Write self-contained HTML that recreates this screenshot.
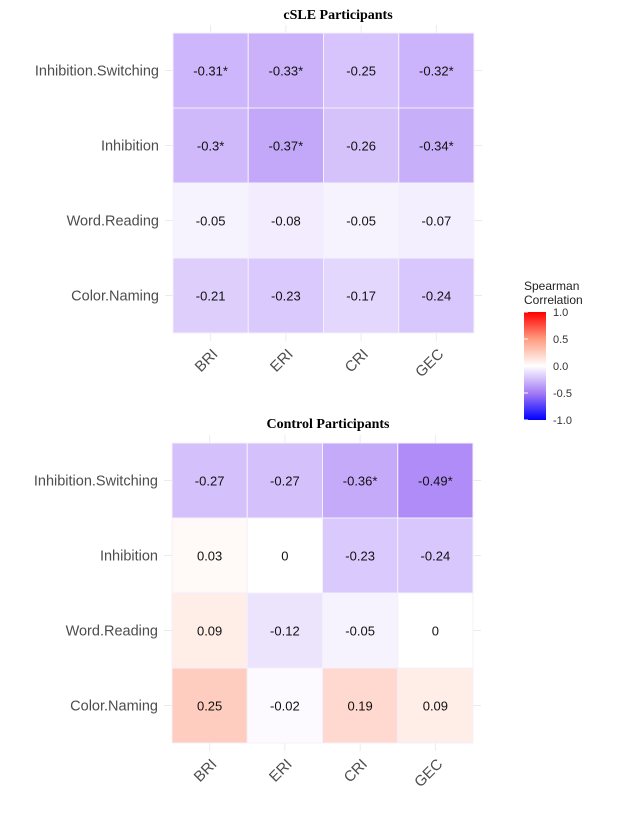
<!DOCTYPE html>
<html><head><meta charset="utf-8"><style>
body{margin:0;background:#fff;}
svg text{font-family:"Liberation Sans",sans-serif;}
</style></head><body>
<svg id="c" width="624" height="814" xmlns="http://www.w3.org/2000/svg">
<defs><linearGradient id="lg" x1="0" y1="1" x2="0" y2="0">
<stop offset="0" stop-color="#0000ff"/><stop offset="0.25" stop-color="#a37cf5"/><stop offset="0.5" stop-color="#ffffff"/><stop offset="0.75" stop-color="#ff9c80"/><stop offset="1" stop-color="#ff0000"/></linearGradient></defs>
<text x="338" y="19" text-anchor="middle" style="font-family:'Liberation Serif',serif;font-weight:bold;font-size:14px">cSLE Participants</text>
<text x="328" y="428" text-anchor="middle" style="font-family:'Liberation Serif',serif;font-weight:bold;font-size:14px">Control Participants</text>
<g id="legend">
<text x="524" y="290" font-size="12" fill="#222">Spearman</text>
<text x="524" y="304" font-size="12" fill="#222">Correlation</text>
<rect x="524" y="312" width="22" height="108" fill="url(#lg)"/>
</g>
</svg>
<script>
const cols=["BRI","ERI","CRI","GEC"];
const rows=["Inhibition.Switching","Inhibition","Word.Reading","Color.Naming"];
const csleVals=[[-0.31,-0.33,-0.25,-0.32],[-0.3,-0.37,-0.26,-0.34],[-0.05,-0.08,-0.05,-0.07],[-0.21,-0.23,-0.17,-0.24]];
const csleSig=[[1,1,0,1],[1,1,0,1],[0,0,0,0],[0,0,0,0]];
const ctrlVals=[[-0.27,-0.27,-0.36,-0.49],[0.03,0,-0.23,-0.24],[0.09,-0.12,-0.05,0],[0.25,-0.02,0.19,0.09]];
const ctrlSig=[[0,0,1,1],[0,0,0,0],[0,0,0,0],[0,0,0,0]];
const legendTicks=[1.0,0.5,0.0,-0.5,-1.0];
const NS="http://www.w3.org/2000/svg";
const svg=document.getElementById('c');
function mk(t,a,p){const e=document.createElementNS(NS,t);for(const k in a)e.setAttribute(k,a[k]);(p||svg).appendChild(e);return e;}
function color(v){let t=Math.min(1,Math.abs(v));let tgt=v<0?[94,20,241]:[255,55,0];
return `rgb(${tgt.map(c=>Math.round(255-t*(255-c))).join(',')})`;}
function panel(name,vals,sig,x0,y0){
 const cw=75.25,rh=75;
 const xs=i=>x0+i*cw, ys=j=>y0+j*rh;
 const g=mk('g',{});
 
 
 cols.forEach((c,i)=>{const cx=xs(i)+cw/2;
  mk('line',{x1:cx,x2:cx,y1:y0-8,y2:y0+4*rh+8,stroke:'#ebebeb','stroke-width':1},g);
  const t=mk('text',{x:0,y:0,'font-size':15,fill:'#4d4d4d','text-anchor':'end',transform:`translate(${cx+8},${y0+4*rh+22}) rotate(-45)`},g);
  t.textContent=c;
  
  });
 rows.forEach((r,j)=>{const cy=ys(j)+rh/2;
  mk('line',{x1:x0-8,x2:x0+4*cw+8,y1:cy,y2:cy,stroke:'#ebebeb','stroke-width':1},g);
  const t=mk('text',{x:x0-14,y:cy+5,'font-size':14.5,fill:'#4d4d4d','text-anchor':'end'},g);
  t.textContent=r;
  
  });
 vals.forEach((row,j)=>row.forEach((v,i)=>{
  const rc=mk('rect',{x:xs(i),y:ys(j),width:cw,height:rh,fill:color(v),stroke:'#f4f0fb','stroke-width':1},g);
  
  
  const t=mk('text',{x:xs(i)+cw/2,y:ys(j)+rh/2+5,'font-size':13,fill:'#111','text-anchor':'middle'},g);
  t.textContent=String(v)+(sig[j][i]?'*':'');
  
  
 }));
}
panel('csle-heatmap',csleVals,csleSig,173,33);
panel('control-heatmap',ctrlVals,ctrlSig,172,443);
const lg=document.getElementById('legend');
legendTicks.forEach(v=>{const y=312+(1-v)/2*108;
 mk('line',{x1:524,x2:528,y1:y,y2:y,stroke:'#fff'},lg);
 const t=mk('text',{x:553,y:y+4,'font-size':11,fill:'#333'},lg);
 t.textContent=v.toFixed(1);
 
 });
</script>
</body></html>
